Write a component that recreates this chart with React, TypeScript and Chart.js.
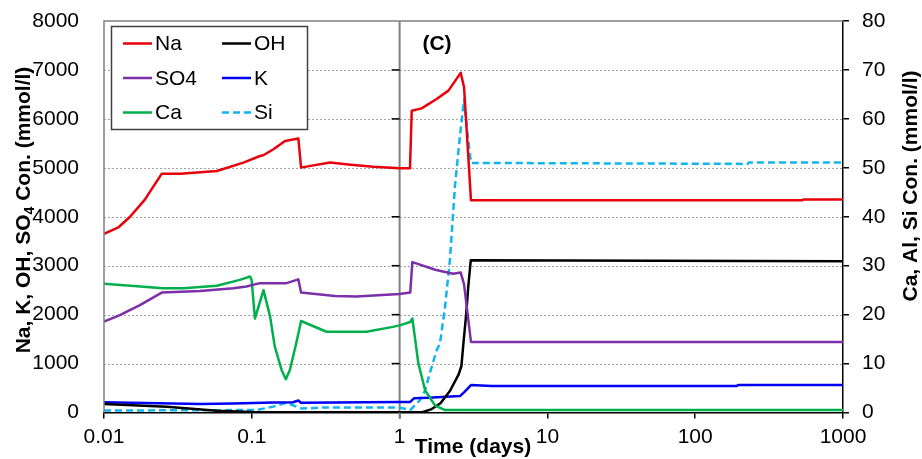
import React, { useEffect, useRef } from 'react';
import { Chart, registerables } from 'chart.js';

Chart.register(...registerables);

const FONT = "'Liberation Sans', Arial, sans-serif";

// Axis ticks
const xTickValues = [0.01, 0.1, 1, 10, 100, 1000];
const leftMin = 0, leftMax = 8000, leftStep = 1000;
const rightMin = 0, rightMax = 80, rightStep = 10;

// Na (left axis, mmol/l)
const naTime = [0.01, 0.0126, 0.015, 0.0189, 0.0246, 0.0327, 0.045, 0.058, 0.0877, 0.1136, 0.1197, 0.14, 0.168, 0.2065, 0.2155, 0.25, 0.338, 0.45, 0.664, 1.0, 1.176, 1.208, 1.41, 1.78, 2.14, 2.59, 2.73, 3.04, 530, 540, 1000];
const naConc = [3650, 3790, 4000, 4350, 4880, 4880, 4910, 4935, 5107, 5242, 5257, 5380, 5550, 5600, 5004, 5040, 5107, 5070, 5024, 4990, 4990, 6166, 6215, 6407, 6577, 6940, 6647, 4339, 4339, 4353, 4353];

// SO4 (left axis)
const so4Time = [0.01, 0.0128, 0.0175, 0.0246, 0.0447, 0.075, 0.092, 0.108, 0.114, 0.172, 0.2065, 0.2155, 0.365, 0.51, 1.0, 1.18, 1.22, 1.74, 2.3, 2.59, 2.73, 3.04, 1000];
const so4Conc = [1860, 1990, 2195, 2450, 2485, 2540, 2573, 2628, 2640, 2643, 2720, 2450, 2382, 2368, 2423, 2450, 3074, 2916, 2834, 2860, 2620, 1443, 1443];

// OH (left axis)
const ohTime = [0.01, 0.0266, 0.058, 0.1, 0.3, 1.2, 1.44, 1.65, 1.89, 2.19, 2.51, 2.62, 2.7, 2.82, 2.92, 3.03, 1000];
const ohConc = [175, 119, 37, 10, 5, 5, 10, 70, 190, 440, 780, 950, 1400, 2000, 2600, 3110, 3090];

// K (left axis)
const kTime = [0.01, 0.0447, 0.075, 0.139, 0.19, 0.2065, 0.215, 1.0, 1.18, 1.25, 1.56, 2.56, 2.75, 3.04, 4.2, 190, 195, 1000];
const kConc = [210, 175, 185, 205, 210, 245, 200, 215, 215, 290, 300, 335, 420, 560, 540, 540, 560, 560];

// Ca (right axis, mmol/l)
const caTime = [0.01, 0.0252, 0.0344, 0.058, 0.083, 0.0973, 0.0997, 0.105, 0.12, 0.133, 0.143, 0.159, 0.17, 0.181, 0.2, 0.2155, 0.32, 0.597, 0.9, 1.0, 1.18, 1.22, 1.34, 1.49, 1.74, 2.03, 1000];
const caConc = [26.3, 25.4, 25.4, 25.9, 27.1, 27.8, 27.1, 19.2, 25.0, 19.6, 13.5, 8.7, 6.8, 8.7, 14.2, 18.7, 16.5, 16.5, 17.5, 17.8, 18.5, 19.2, 10.0, 4.5, 1.4, 0.5, 0.5];

// Si (right axis)
const siTime = [0.01, 0.1, 0.108, 0.14, 0.172, 0.217, 0.3, 1.0, 1.18, 1.37, 1.486, 1.6, 1.78, 1.875, 2.03, 2.19, 2.37, 2.56, 2.73, 2.84, 3.04, 227, 230, 1000];
const siConc = [0.4, 0.5, 0.5, 1.2, 2.0, 0.8, 1.0, 1.0, 0.5, 2.5, 4.5, 8.0, 12.7, 14.1, 21.6, 31.2, 46.3, 56.5, 64.0, 58.5, 51.0, 50.8, 51.1, 51.1];

const seriesNames = ['Na', 'OH', 'SO4', 'K', 'Ca', 'Si'];
const seriesColors: Record<string, string> = {
  Na: '#e8000b',
  OH: '#000000',
  SO4: '#7b2fa8',
  K: '#0000f5',
  Ca: '#00b04c',
  Si: '#10b4ef',
};

const pts = (t: number[], v: number[]) => t.map((x, i) => ({ x, y: v[i] }));

const decorPlugin = {
  id: 'decor',
  beforeDatasetsDraw(chart: any) {
    const { ctx, chartArea, scales } = chart;
    const yScale = scales.y;
    ctx.save();
    // dotted horizontal gridlines
    ctx.strokeStyle = '#a4a4a4';
    ctx.lineWidth = 1;
    ctx.setLineDash([2, 2]);
    for (let i = 1; i < 8; i++) {
      const v = leftMin + i * leftStep;
      const y = Math.round(yScale.getPixelForValue(v)) + 0.5;
      ctx.beginPath();
      ctx.moveTo(chartArea.left, y);
      ctx.lineTo(chartArea.right, y);
      ctx.stroke();
    }
    ctx.setLineDash([]);
    // vertical divider at t = 1
    const x1 = scales.x.getPixelForValue(1);
    ctx.strokeStyle = '#808080';
    ctx.lineWidth = 2;
    ctx.beginPath();
    ctx.moveTo(x1, chartArea.top);
    ctx.lineTo(x1, chartArea.bottom + 6);
    ctx.stroke();
    ctx.strokeStyle = '#000';
    ctx.lineWidth = 1.5;
    for (let i = 1; i < 8; i++) {
      const y = yScale.getPixelForValue(leftMin + i * leftStep);
      ctx.beginPath();
      ctx.moveTo(x1 - 8, y);
      ctx.lineTo(x1, y);
      ctx.stroke();
    }
    ctx.restore();
  },
  afterDraw(chart: any) {
    const { ctx, chartArea } = chart;
    ctx.save();
    // left + top borders (gray)
    ctx.strokeStyle = '#808080';
    ctx.lineWidth = 1.5;
    ctx.beginPath();
    ctx.moveTo(chartArea.left, chartArea.bottom);
    ctx.lineTo(chartArea.left, chartArea.top);
    ctx.lineTo(chartArea.right, chartArea.top);
    ctx.stroke();

    // legend
    const bx = 111.5, by = 26.5, bw = 196, bh = 103;
    ctx.fillStyle = '#fff';
    ctx.fillRect(bx, by, bw, bh);
    ctx.strokeStyle = '#404040';
    ctx.lineWidth = 1.5;
    ctx.strokeRect(bx, by, bw, bh);
    const colX = [123, 222];
    const rowY = [43.5, 78, 112.5];
    ctx.font = `21px ${FONT}`;
    ctx.textBaseline = 'middle';
    ctx.textAlign = 'left';
    seriesNames.forEach((name, i) => {
      const cx = colX[i % 2];
      const cy = rowY[Math.floor(i / 2)];
      ctx.strokeStyle = seriesColors[name];
      ctx.lineWidth = 2.5;
      ctx.setLineDash(name === 'Si' ? [7, 4] : []);
      ctx.beginPath();
      ctx.moveTo(cx, cy);
      ctx.lineTo(cx + 29, cy);
      ctx.stroke();
      ctx.setLineDash([]);
      ctx.fillStyle = '#000';
      ctx.fillText(name, cx + 32, cy + 1);
    });

    // panel label
    ctx.font = `bold 21px ${FONT}`;
    ctx.textAlign = 'center';
    ctx.fillText('(C)', 437, 44);

    // x title
    ctx.textBaseline = 'alphabetic';
    ctx.fillText('Time (days)', 473, 453);

    // left title with subscript
    const bold = `bold 21px ${FONT}`;
    const sub = `bold 14px ${FONT}`;
    const p1 = 'Na, K, OH, SO';
    const p2 = '4';
    const p3 = ' Con. (mmol/l)';
    ctx.font = bold;
    const w1 = ctx.measureText(p1).width;
    const w3 = ctx.measureText(p3).width;
    ctx.font = sub;
    const w2 = ctx.measureText(p2).width;
    const total = w1 + w2 + w3;
    ctx.save();
    ctx.translate(30, 210);
    ctx.rotate(-Math.PI / 2);
    ctx.textAlign = 'left';
    let x = -total / 2;
    ctx.font = bold;
    ctx.fillText(p1, x, 0);
    x += w1;
    ctx.font = sub;
    ctx.fillText(p2, x, 4);
    x += w2;
    ctx.font = bold;
    ctx.fillText(p3, x, 0);
    ctx.restore();

    // right title
    ctx.save();
    ctx.translate(917, 186);
    ctx.rotate(-Math.PI / 2);
    ctx.textAlign = 'center';
    ctx.font = bold;
    ctx.fillText('Ca, Al, Si Con. (mmol/l)', 0, 0);
    ctx.restore();

    ctx.restore();
  },
};

const noVPad = (w: number) => (scale: any) => {
  scale.width = w;
  scale.paddingTop = 0;
  scale.paddingBottom = 0;
};

export default function App() {
  const ref = useRef<HTMLCanvasElement>(null);

  useEffect(() => {
    document.body.style.margin = '0';
    const canvas = ref.current;
    if (!canvas) return;
    const mk = (name: string, t: number[], v: number[], axis: string) => ({
      label: name,
      data: pts(t, v),
      yAxisID: axis,
      borderColor: seriesColors[name],
      backgroundColor: seriesColors[name],
      borderWidth: 2.5,
      borderDash: name === 'Si' ? [7, 4] : [],
      pointRadius: 0,
      tension: 0,
      fill: false,
      borderJoinStyle: 'round' as const,
    });
    const chart = new Chart(canvas, {
      type: 'line',
      data: {
        datasets: [
          mk('Na', naTime, naConc, 'y'),
          mk('SO4', so4Time, so4Conc, 'y'),
          mk('Ca', caTime, caConc, 'y1'),
          mk('OH', ohTime, ohConc, 'y'),
          mk('K', kTime, kConc, 'y'),
          mk('Si', siTime, siConc, 'y1'),
        ],
      },
      options: {
        animation: false,
        responsive: false,
        maintainAspectRatio: false,
        layout: { padding: { top: 21, left: 0, right: 0, bottom: 0 } },
        plugins: { legend: { display: false }, tooltip: { enabled: false } },
        scales: {
          x: {
            type: 'logarithmic',
            min: xTickValues[0],
            max: xTickValues[xTickValues.length - 1],
            afterBuildTicks: (scale: any) => {
              scale.ticks = xTickValues.map((v) => ({ value: v }));
            },
            afterFit: (scale: any) => {
              scale.height = 46.5;
              scale.paddingLeft = 0;
              scale.paddingRight = 0;
            },
            ticks: {
              callback: (v: any) => String(v),
              autoSkip: false,
              maxRotation: 0,
              padding: 6,
              color: '#000',
              font: { family: FONT, size: 21 },
            },
            grid: { drawOnChartArea: false, drawTicks: true, tickLength: 6, color: '#000', lineWidth: 1.5 },
            border: { color: '#000', width: 1.5 },
          },
          y: {
            type: 'linear',
            position: 'left',
            min: leftMin,
            max: leftMax,
            afterFit: noVPad(104),
            ticks: {
              stepSize: leftStep,
              padding: 17,
              color: '#000',
              callback: (v: any) => String(v),
              font: { family: FONT, size: 21 },
            },
            grid: { display: false },
            border: { display: false },
          },
          y1: {
            type: 'linear',
            position: 'right',
            min: rightMin,
            max: rightMax,
            afterFit: noVPad(79),
            ticks: {
              stepSize: rightStep,
              padding: 13,
              color: '#000',
              callback: (v: any) => String(v),
              font: { family: FONT, size: 21 },
            },
            grid: { drawOnChartArea: false, drawTicks: true, tickLength: 6, color: '#000', lineWidth: 1.5 },
            border: { color: '#000', width: 1.5 },
          },
        },
      },
      plugins: [decorPlugin],
    } as any);
    return () => chart.destroy();
  }, []);

  return (
    <div style={{ width: 922, height: 459, overflow: 'hidden' }}>
      <canvas ref={ref} width={922} height={459} />
    </div>
  );
}
